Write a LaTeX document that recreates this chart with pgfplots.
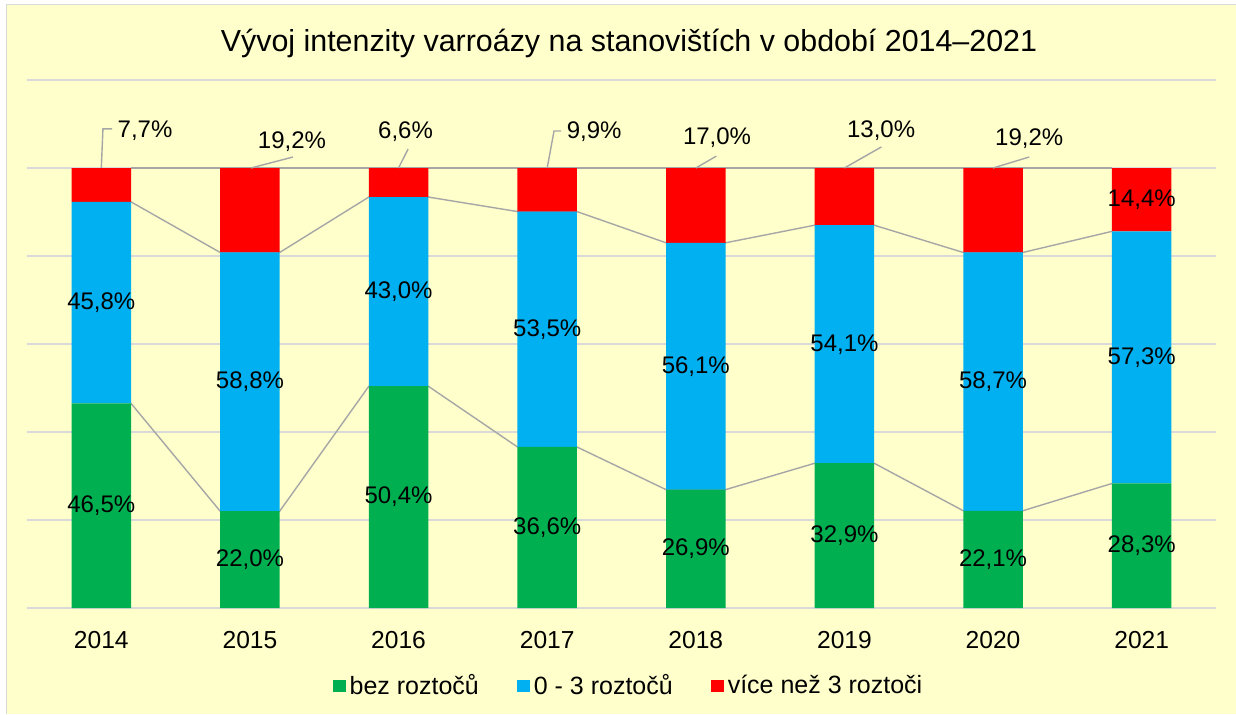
\documentclass[border=0pt]{standalone}
\usepackage{fontspec}
\setmainfont{Liberation Sans}
\usepackage{pgfplots}
\pgfplotsset{compat=1.18}
\definecolor{bgyellow}{HTML}{FFFFCC}
\definecolor{gridgray}{HTML}{D9D9D9}
\definecolor{sergray}{HTML}{A6A6A6}
\definecolor{cgreen}{HTML}{00B050}
\definecolor{cblue}{HTML}{00B0F0}
\definecolor{cred}{HTML}{FF0000}
\pgfplotsset{
  base/.style={
    at={(13.5pt,53pt)}, anchor=south west,
    scale only axis, width=594.5pt, height=264pt,
    xmin=-0.5, xmax=7.5, ymin=0, ymax=120,
  }
}
\begin{document}
\begin{tikzpicture}
\useasboundingbox (0,0) rectangle (618pt,357pt);
\fill[white] (0,0) rectangle (618pt,357pt);
\fill[bgyellow] (3pt,0) rectangle (618pt,354.5pt);
\draw[gridgray, line width=0.5pt] (3pt,0) -- (3pt,354.5pt) -- (618pt,354.5pt);
\node[anchor=base, font=\fontsize{15.2}{18}\selectfont] at (314.5pt,331pt) {Vývoj intenzity varroázy na stanovištích v období 2014–2021};

% background axis: grid, tick labels, series lines
\begin{axis}[base,
  axis line style={draw=none}, major tick length=0pt,
  ytick={0,20,...,120}, yticklabels={}, ymajorgrids,
  grid style={gridgray, line width=0.75pt},
  xtick={0,...,7}, xticklabels={2014,2015,2016,2017,2018,2019,2020,2021},
  xticklabel style={font=\fontsize{12.3}{14}\selectfont, anchor=base, inner sep=0pt, yshift=-20pt},
]
\addplot[sergray, line width=0.7pt] coordinates {(0.2,46.5)(0.8,22.0)(1.2,22.0)(1.8,50.4)(2.2,50.4)(2.8,36.6)(3.2,36.6)(3.8,26.9)(4.2,26.9)(4.8,32.9)(5.2,32.9)(5.8,22.1)(6.2,22.1)(6.8,28.3)};
\addplot[sergray, line width=0.7pt] coordinates {(0.2,92.3)(0.8,80.8)(1.2,80.8)(1.8,93.4)(2.2,93.4)(2.8,90.1)(3.2,90.1)(3.8,83.0)(4.2,83.0)(4.8,87.0)(5.2,87.0)(5.8,80.8)(6.2,80.8)(6.8,85.6)};
\addplot[sergray, line width=0.7pt] coordinates {(0.2,100)(6.8,100)};
\end{axis}

% bars
\begin{axis}[base, hide axis, ybar stacked, bar width=0.4,
  legend style={at={(0.5067,-0.1477)}, anchor=center, draw=none, fill=none,
    legend columns=3, font=\fontsize{12.5}{14}\selectfont,
    /tikz/every even column/.append style={column sep=17pt}},
  legend image code/.code={\fill[#1] (0pt,-3pt) rectangle (6.5pt,3pt);},
]
\addplot[fill=cgreen, draw=none] coordinates {(0,46.5)(1,22.0)(2,50.4)(3,36.6)(4,26.9)(5,32.9)(6,22.1)(7,28.3)};
\addlegendentry{bez roztočů}
\addplot[fill=cblue, draw=none] coordinates {(0,45.8)(1,58.8)(2,43.0)(3,53.5)(4,56.1)(5,54.1)(6,58.7)(7,57.3)};
\addlegendentry{0 - 3 roztočů}
\addplot[fill=cred, draw=none] coordinates {(0,7.7)(1,19.2)(2,6.6)(3,9.9)(4,17.0)(5,13.0)(6,19.2)(7,14.4)};
\addlegendentry{více než 3 roztoči}
\end{axis}

% labels and leader lines
\begin{axis}[base, hide axis, clip=false]
\addplot[sergray, line width=0.7pt] coordinates {(0,100)(0.011,108.9)(0.072,108.9)};
\addplot[sergray, line width=0.7pt] coordinates {(1.007,100)(1.290,102.5)};
\addplot[sergray, line width=0.7pt] coordinates {(2.0,100)(2.064,104.3)};
\addplot[sergray, line width=0.7pt] coordinates {(3.0,100)(3.046,108.4)(3.094,108.4)};
\addplot[sergray, line width=0.7pt] coordinates {(4.0,100)(4.138,102.7)};
\addplot[sergray, line width=0.7pt] coordinates {(5.0,100)(5.249,104.8)};
\addplot[sergray, line width=0.7pt] coordinates {(6.0,100)(6.243,102.5)};
\addplot[draw=none, mark=none, nodes near coords, point meta=explicit symbolic,
  every node near coord/.style={anchor=center, font=\fontsize{12}{14}\selectfont, inner sep=0pt, text=black}]
  table[x=x, y=y, meta=lab] {
x y lab
0 23.25 46,5\%
1 11.0 22,0\%
2 25.2 50,4\%
3 18.3 36,6\%
4 13.45 26,9\%
5 16.45 32,9\%
6 11.05 22,1\%
7 14.15 28,3\%
0 69.4 45,8\%
1 51.4 58,8\%
2 71.9 43,0\%
3 63.35 53,5\%
4 54.95 56,1\%
5 59.95 54,1\%
6 51.45 58,7\%
7 56.95 57,3\%
7 92.8 14,4\%
0.294 108.4 7,7\%
1.283 105.9 19,2\%
2.047 108.2 6,6\%
3.316 108.2 9,9\%
4.143 107.0 17,0\%
5.247 108.4 13,0\%
6.243 106.6 19,2\%
};
\end{axis}
\end{tikzpicture}
\end{document}
